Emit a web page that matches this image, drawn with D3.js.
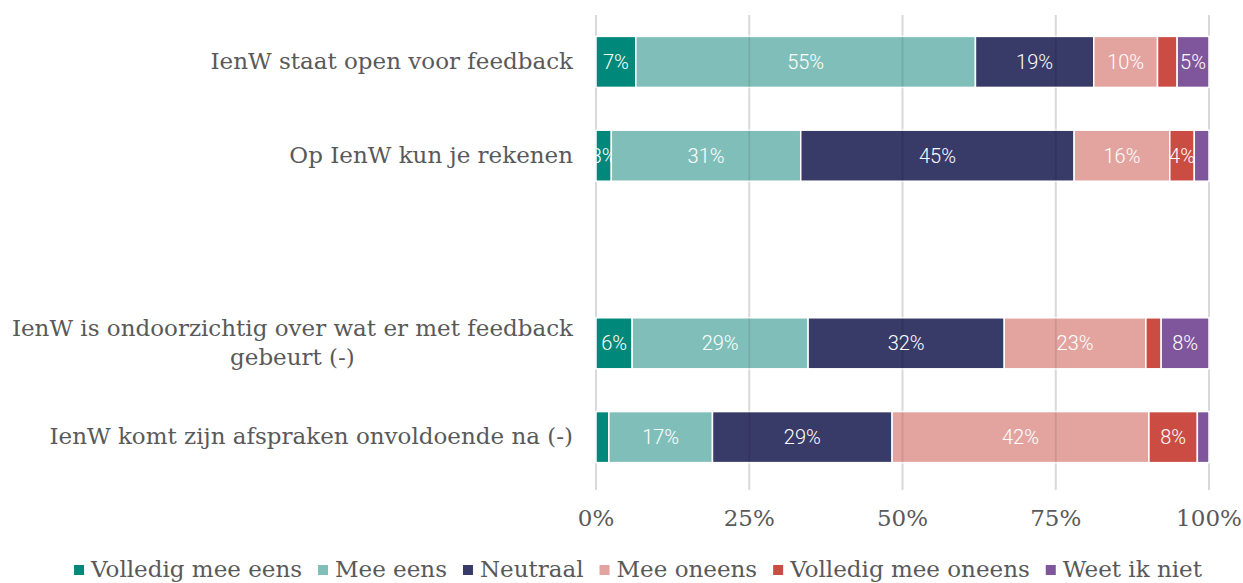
<!DOCTYPE html>
<html>
<head>
<meta charset="utf-8">
<script src="https://cdn.jsdelivr.net/npm/d3@7"></script>
<style>
  html, body { margin: 0; padding: 0; background: #fff; }
  svg { display: block; }
</style>
</head>
<body>
<svg id="chart" width="1243" height="583"></svg>
<script>
// ---- data ----
const categories = [
  "IenW staat open voor feedback",
  "Op IenW kun je rekenen",
  "",
  "IenW is ondoorzichtig over wat er met feedback\ngebeurt (-)",
  "IenW komt zijn afspraken onvoldoende na (-)"
];
const seriesNames = ["Volledig mee eens", "Mee eens", "Neutraal", "Mee oneens", "Volledig mee oneens", "Weet ik niet"];
const volledigMeeEens   = [6.5, 2.5, null, 5.9, 2.1];
const meeEens           = [55.4, 30.9, null, 28.7, 16.9];
const neutraal          = [19.3, 44.6, null, 32.0, 29.3];
const meeOneens         = [10.4, 15.6, null, 23.1, 41.9];
const volledigMeeOneens = [3.2, 4.0, null, 2.5, 7.9];
const weetIkNiet        = [5.2, 2.4, null, 7.8, 1.9];
// which value labels are shown, per series (row order as categories)
const labelShown = [
  [true, true, false, true, false],
  [true, true, false, true, true],
  [true, true, false, true, true],
  [true, true, false, true, true],
  [false, true, false, false, true],
  [true, false, false, true, false]
];
const xTicks = [0, 25, 50, 75, 100];
const xTickLabels = ["0%", "25%", "50%", "75%", "100%"];

const seriesValues = [volledigMeeEens, meeEens, neutraal, meeOneens, volledigMeeOneens, weetIkNiet];
const colors = ["#00897b", "#80bfb9", "#383a68", "#e3a49f", "#ca4c43", "#7f559c"];

// ---- layout ----
const svg = d3.select("#chart");
const serif = "'DejaVu Serif', serif";
const textColor = "#595959";
const fs = "23px";

const x = d3.scaleLinear().domain([0, 100]).range([596, 1209]);
const catKeys = categories.map((c, i) => "c" + i);
const y = d3.scaleBand().domain(catKeys).range([15, 484]).paddingInner(0.456).paddingOuter(0.228);

// stacked data
const rows = categories.map((c, i) => {
  let acc = 0;
  const segs = [];
  seriesValues.forEach((arr, s) => {
    const v = arr[i];
    if (v == null) return;
    segs.push({ s, v, x0: acc, x1: acc + v, row: i, show: labelShown[s][i] });
    acc += v;
  });
  return segs;
});
const segments = rows.flat();

const defs = svg.append("defs");
defs.selectAll("clipPath").data(segments).join("clipPath")
  .attr("id", (d, i) => "clip" + i)
  .append("rect")
  .attr("x", d => x(d.x0))
  .attr("y", d => y("c" + d.row))
  .attr("width", d => x(d.x1) - x(d.x0))
  .attr("height", y.bandwidth());

// gridlines under bars
svg.append("g").selectAll("line").data(xTicks).join("line")
  .attr("x1", d => x(d)).attr("x2", d => x(d))
  .attr("y1", 15).attr("y2", 490)
  .attr("stroke", "#d9d9d9")
  .attr("stroke-width", 2);

// bars
svg.append("g").selectAll("rect").data(segments).join("rect")
  .attr("x", d => x(d.x0))
  .attr("y", d => y("c" + d.row))
  .attr("width", d => x(d.x1) - x(d.x0))
  .attr("height", y.bandwidth())
  .attr("fill", d => colors[d.s])
  .attr("stroke", "#fff")
  .attr("stroke-width", 1.5);

// faint gridlines showing through the bars
const rowsWithBars = catKeys.filter((k, i) => rows[i].length);
const og = svg.append("g");
rowsWithBars.forEach(k => {
  og.selectAll(null).data(xTicks.slice(1, -1)).join("line")
    .attr("x1", d => x(d)).attr("x2", d => x(d))
    .attr("y1", y(k)).attr("y2", y(k) + y.bandwidth())
    .attr("stroke", "rgba(0,0,0,0.09)")
    .attr("stroke-width", 2);
});

// value labels
svg.append("g").selectAll("text").data(segments.filter(d => d.show)).join("text")
  .attr("clip-path", d => "url(#clip" + segments.indexOf(d) + ")")
  .attr("x", d => (x(d.x0) + x(d.x1)) / 2)
  .attr("y", d => y("c" + d.row) + y.bandwidth() / 2)
  .attr("dy", "0.35em")
  .attr("text-anchor", "middle")
  .attr("fill", "#fff")
  .style("font-family", "Roboto, sans-serif")
  .style("font-weight", 300)
  .style("font-size", "20px")
  .text(d => Math.round(d.v) + "%");

// x tick labels
svg.append("g").selectAll("text").data(xTicks).join("text")
  .attr("x", d => x(d))
  .attr("y", 526)
  .attr("text-anchor", "middle")
  .attr("fill", textColor)
  .style("font-family", serif)
  .style("font-size", fs)
  .text((d, i) => xTickLabels[i]);

// y category labels
const yg = svg.append("g");
categories.forEach((c, i) => {
  if (!c) return;
  const lines = c.split("\n");
  const cy = y("c" + i) + y.bandwidth() / 2 - 1;
  const lh = 29;
  const t = yg.append("text")
    .attr("fill", textColor)
    .style("font-family", serif)
    .style("font-size", fs);
  const tsp = lines.map((l, k) => t.append("tspan")
    .attr("y", cy + (k - (lines.length - 1) / 2) * lh)
    .attr("dy", "0.35em")
    .text(l));
  const widths = tsp.map(s => s.node().getComputedTextLength());
  const maxW = d3.max(widths);
  const right = 573;
  tsp.forEach(s => s.attr("x", right - maxW / 2).attr("text-anchor", "middle"));
});

// legend
const lg = svg.append("g");
const items = seriesNames.map((n, i) => {
  const g = lg.append("g");
  g.append("rect").attr("x", 0).attr("y", -12).attr("width", 10).attr("height", 10).attr("fill", colors[i]);
  const t = g.append("text").attr("x", 17).attr("y", 0)
    .attr("fill", textColor)
    .style("font-family", serif)
    .style("font-size", fs)
    .text(n);
  return { g, w: 17 + t.node().getComputedTextLength() };
});
const gap = 16;
const total = d3.sum(items, d => d.w) + gap * (items.length - 1);
let cx = 638 - total / 2;
items.forEach(it => {
  it.g.attr("transform", `translate(${cx},577)`);
  cx += it.w + gap;
});
</script>
</body>
</html>
